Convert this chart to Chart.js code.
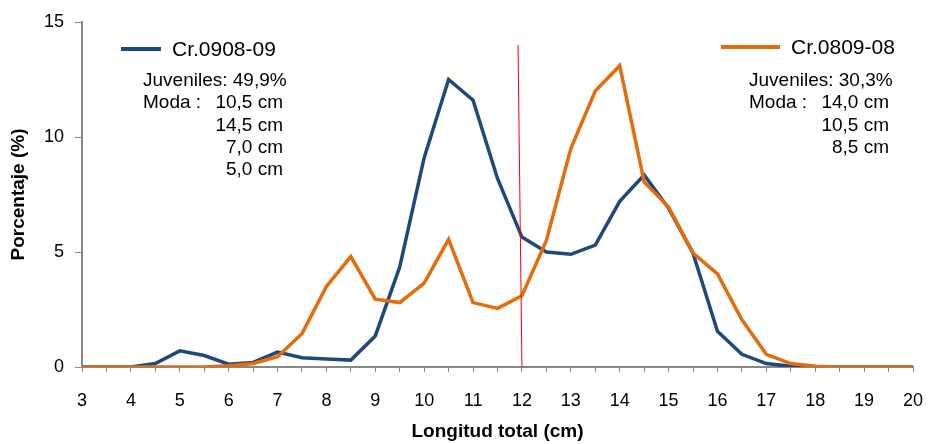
<!DOCTYPE html>
<html>
<head>
<meta charset="utf-8">
<script src="https://cdn.jsdelivr.net/npm/chart.js@4.4.1/dist/chart.umd.min.js"></script>
<style>
  body { margin: 0; background: #fff; }
  #wrap { position: relative; width: 928px; height: 444px; }
  canvas { position: absolute; left: 0; top: 0; }
  .note { position: absolute; width: 140px; font-family: "Liberation Sans", Arial, sans-serif; color: #000; font-size: 19px; line-height: 22.3px; white-space: nowrap; }
  .note div { display: flex; justify-content: space-between; }
  .note .r { justify-content: flex-end; }
  .leg { position: absolute; font-family: "Liberation Sans", Arial, sans-serif; font-size: 21px; line-height: 24px; color: #000; white-space: nowrap; }
  .leg span { display: inline-block; height: 4px; vertical-align: middle; margin-right: 11px; position: relative; top: -1px; }
</style>
</head>
<body>
<div id="wrap">
  <canvas id="grafico" width="928" height="444"></canvas>
  <div class="leg" style="left:121px; top:37px;"><span style="width:40px; background:#1F497D;"></span>Cr.0908-09</div>
  <div class="note" style="left:143px; top:69px;">
    <div>Juveniles: 49,9%</div>
    <div><span>Moda :</span><span>10,5 cm</span></div>
    <div class="r">14,5 cm</div>
    <div class="r">7,0 cm</div>
    <div class="r">5,0 cm</div>
  </div>
  <div class="leg" style="left:721px; top:35px;"><span style="width:59px; background:#E46C0A;"></span>Cr.0809-08</div>
  <div class="note" style="left:749px; top:69px;">
    <div>Juveniles: 30,3%</div>
    <div><span>Moda :</span><span>14,0 cm</span></div>
    <div class="r">10,5 cm</div>
    <div class="r">8,5 cm</div>
  </div>
</div>
<script>
// tallas (cm)
let tallas = [3, 3.5, 4, 4.5, 5, 5.5, 6, 6.5, 7, 7.5, 8, 8.5, 9, 9.5, 10, 10.5, 11, 11.5,
              12, 12.5, 13, 13.5, 14, 14.5, 15, 15.5, 16, 16.5, 17, 17.5, 18, 18.5, 19, 19.5, 20];

// Cr.0908-09
let cr090809 = [0, 0, 0, 0.15, 0.7, 0.5, 0.12, 0.2, 0.65, 0.4, 0.35, 0.3, 1.35, 4.35, 9.1, 12.5, 11.6, 8.2,
                5.65, 5.0, 4.9, 5.3, 7.2, 8.35, 6.9, 4.95, 1.55, 0.55, 0.15, 0.03, 0, 0, 0, 0, 0];

// Cr.0809-08
let cr080908 = [0, 0, 0, 0, 0, 0, 0.05, 0.15, 0.45, 1.45, 3.5, 4.8, 2.95, 2.8, 3.65, 5.55, 2.8, 2.55,
                3.1, 5.5, 9.5, 12.0, 13.1, 8.05, 6.95, 4.95, 4.05, 2.05, 0.55, 0.15, 0.03, 0, 0, 0, 0];

// linea de talla minima (12 cm)
let lineaX = [11.92, 12];
let lineaY = [14, 0];

let yTicks = [0, 5, 10, 15];

function punti(xs, ys) {
  return xs.map((x, i) => ({ x: x, y: ys[i] }));
}

let ctx = document.getElementById("grafico");
new Chart(ctx, {
  type: 'line',
  data: {
    datasets: [
      {
        label: 'Talla minima',
        data: punti(lineaX, lineaY),
        borderColor: '#FF0000',
        borderWidth: 1,
        pointRadius: 0,
        order: 0
      },
      {
        label: 'Cr.0809-08',
        data: punti(tallas, cr080908),
        borderColor: '#E46C0A',
        borderWidth: 3.5,
        pointRadius: 0,
        tension: 0,
        order: 1
      },
      {
        label: 'Cr.0908-09',
        data: punti(tallas, cr090809),
        borderColor: '#1F497D',
        borderWidth: 3.5,
        pointRadius: 0,
        tension: 0,
        order: 2
      }
    ]
  },
  options: {
    responsive: false,
    animation: false,
    layout: { padding: { top: 22, right: 15, left: 0, bottom: 0 } },
    plugins: { legend: { display: false }, tooltip: { enabled: false } },
    scales: {
      x: {
        type: 'linear',
        min: 3,
        max: 20,
        afterFit: s => { s.height = 77; s.paddingLeft = 0; s.paddingRight = 0; },
        afterBuildTicks: s => { s.ticks = tallas.map(v => ({ value: v })); },
        ticks: {
          autoSkip: false,
          maxRotation: 0,
          padding: 18,
          color: '#000',
          font: { family: 'Liberation Sans', size: 18 },
          callback: v => Number.isInteger(v) ? v : ''
        },
        grid: { drawOnChartArea: false, drawTicks: true, tickLength: 5, color: '#888', tickColor: '#888' },
        border: { color: '#888', width: 2 },
        title: {
          display: true,
          text: 'Longitud total (cm)',
          color: '#000',
          font: { family: 'Liberation Sans', size: 19, weight: 'bold' },
          padding: { top: 4, bottom: 1 }
        }
      },
      y: {
        min: 0,
        max: 15,
        afterFit: s => { s.width = 82; },
        afterBuildTicks: s => { s.ticks = yTicks.map(v => ({ value: v })); },
        ticks: {
          padding: 11,
          color: '#000',
          font: { family: 'Liberation Sans', size: 18 }
        },
        grid: { drawOnChartArea: false, drawTicks: true, tickLength: 7, color: '#888', tickColor: '#888' },
        border: { color: '#888', width: 2 },
        title: {
          display: true,
          text: 'Porcentaje (%)',
          color: '#000',
          font: { family: 'Liberation Sans', size: 19, weight: 'bold' },
          padding: { top: 7, bottom: 0 }
        }
      }
    }
  }
});
</script>
</body>
</html>
